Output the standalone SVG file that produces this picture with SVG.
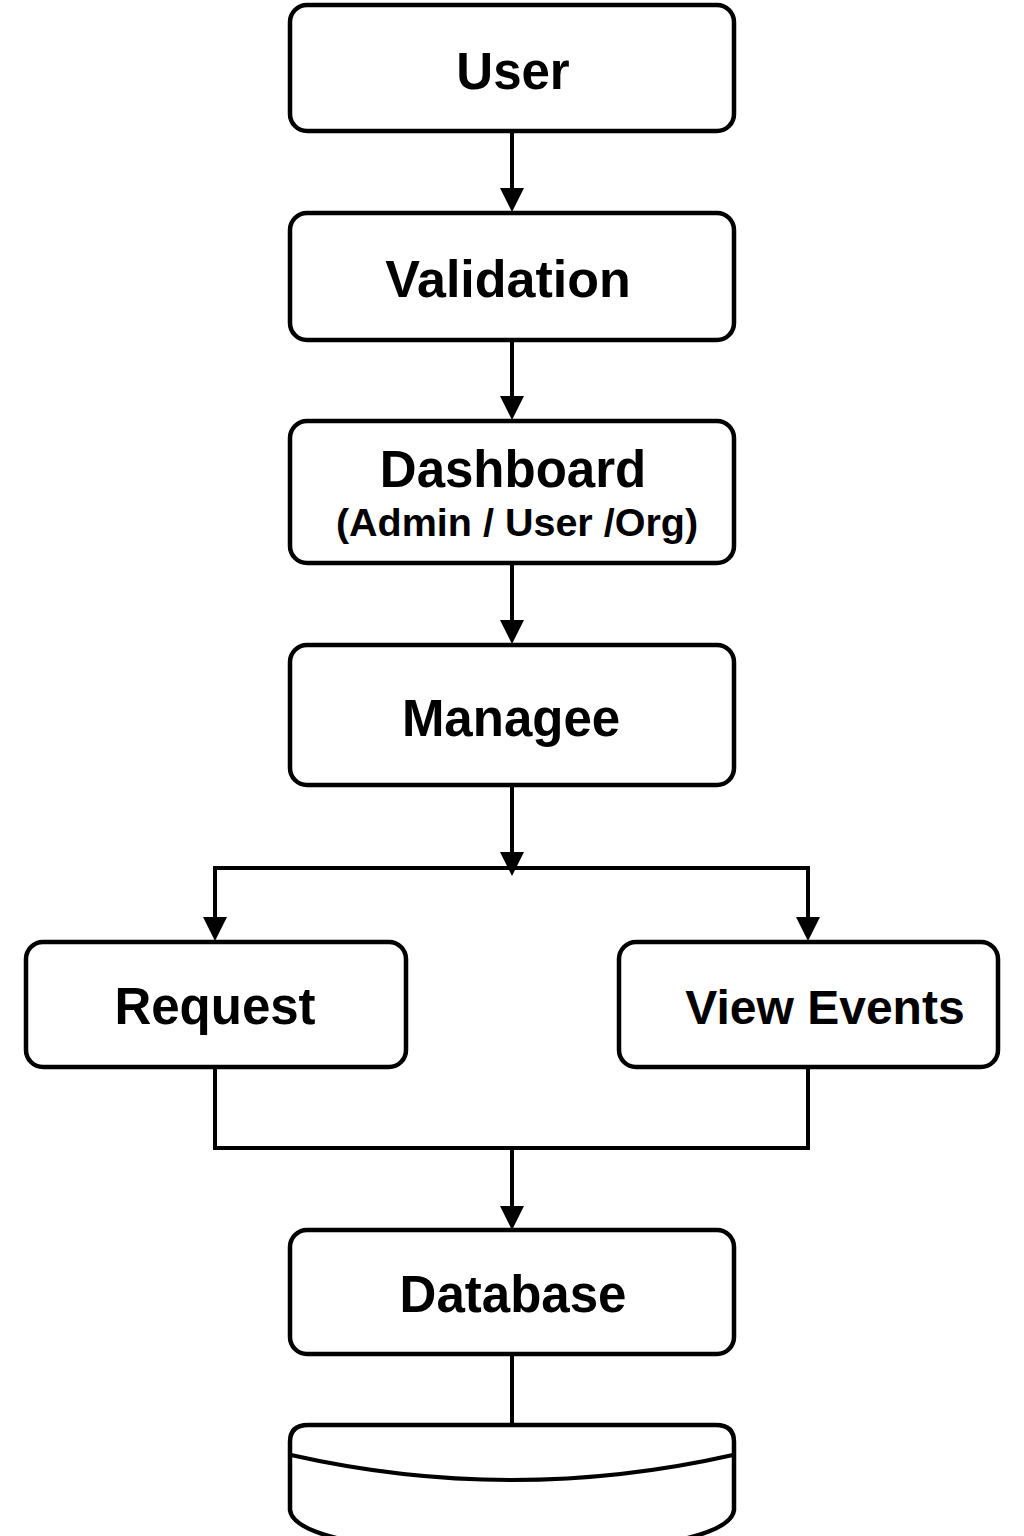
<svg xmlns="http://www.w3.org/2000/svg" width="1024" height="1536" viewBox="0 0 1024 1536">
<defs>
<style>
.box{fill:#fff;stroke:#000;stroke-width:4.5}
.lbl{font-family:"Liberation Sans",Arial,sans-serif;font-weight:bold;font-size:51px;fill:#000;text-anchor:middle}
.sub{font-family:"Liberation Sans",Arial,sans-serif;font-weight:bold;font-size:39.5px;fill:#000;text-anchor:middle}
.ln{fill:none;stroke:#000;stroke-width:4}
</style>
</defs>
<rect width="1024" height="1536" fill="#fff"/>
<g id="connectors">
<path class="ln" d="M512,131 V188"/>
<path d="M500,188 L524,188 L512,212 Z"/>
<path class="ln" d="M512,340 V396"/>
<path d="M500,396 L524,396 L512,420 Z"/>
<path class="ln" d="M512,563 V620"/>
<path d="M500,620 L524,620 L512,644 Z"/>
<path class="ln" d="M512,785 V852"/>
<path d="M500,852 L524,852 L512,876 Z"/>
<path class="ln" d="M215,918 V868 H808 V918"/>
<path d="M203,917 L227,917 L215,941 Z"/>
<path d="M796,917 L820,917 L808,941 Z"/>
<path class="ln" d="M215,1067 V1148 H808 V1067"/>
<path class="ln" d="M512,1148 V1206"/>
<path d="M500,1206 L524,1206 L512,1230 Z"/>
<path class="ln" d="M512,1354 V1424"/>
</g>
<g id="user">
<rect class="box" x="290" y="5" width="444" height="126" rx="17"/>
<text class="lbl" x="513" y="89">User</text>
</g>
<g id="validation">
<rect class="box" x="290" y="213" width="444" height="127" rx="17"/>
<text class="lbl" x="508" y="297" style="font-size:52px">Validation</text>
</g>
<g id="dashboard">
<rect class="box" x="290" y="421" width="444" height="142" rx="17"/>
<text class="lbl" x="513" y="487">Dashboard</text>
<text class="sub" x="517" y="536">(Admin / User /Org)</text>
</g>
<g id="managee">
<rect class="box" x="290" y="645" width="444" height="140" rx="17"/>
<text class="lbl" x="511" y="736">Managee</text>
</g>
<g id="request">
<rect class="box" x="26" y="942" width="380" height="125" rx="17"/>
<text class="lbl" x="215" y="1024">Request</text>
</g>
<g id="view-events">
<rect class="box" x="619" y="942" width="379" height="125" rx="17"/>
<text class="lbl" x="825" y="1024" style="font-size:48px">View Events</text>
</g>
<g id="database">
<rect class="box" x="290" y="1230" width="444" height="124" rx="17"/>
<text class="lbl" x="513" y="1312">Database</text>
</g>
<g id="storage">
<path class="box" d="M370,1545 Q292,1532 290,1510 V1442 Q290,1425 308,1425 H716 Q734,1425 734,1442 V1510 Q732,1532 654,1545"/>
<path class="ln" d="M291,1455 Q512,1505 733,1455" stroke-width="4.5"/>
</g>
</svg>
